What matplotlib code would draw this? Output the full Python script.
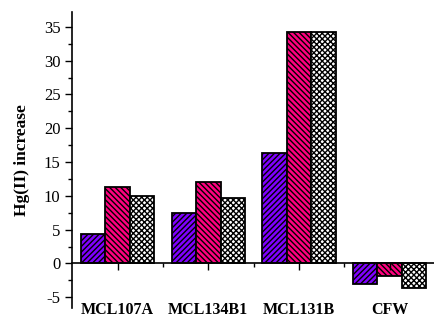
import numpy as np
import matplotlib.pyplot as plt
import matplotlib.transforms as mtransforms

# strains and the three measured series
strains = ['MCL107A', 'MCL134B1', 'MCL131B', 'CFW']
series_a = [4.4, 7.5, 16.4, -3.0]
series_b = [11.3, 12.0, 34.2, -1.8]
series_c = [10.0, 9.7, 34.2, -3.7]

plt.rcParams['font.family'] = ['Liberation Serif', 'DejaVu Serif']
plt.rcParams['hatch.linewidth'] = 1.0
plt.rcParams['axes.unicode_minus'] = False

fig = plt.figure(figsize=(4.35, 3.2), dpi=100)
ax = fig.add_axes([0.166, 0.0375, 0.834, 0.925])

ind = np.arange(len(strains))
width = 0.27
styles = [(series_a, '#7f00ff', '//////'),
          (series_b, '#ff007f', '\\\\\\\\\\\\'),
          (series_c, 'white', 'xxxxxx')]
for i, (vals, col, hatch) in enumerate(styles):
    ax.bar(ind + (i - 1) * width, vals, width, color=col, hatch=hatch,
           edgecolor='black', linewidth=1.3)

ax.set_xlim(-0.5, 3.5)
ax.set_ylim(-6.6, 37.2)
ax.spines['top'].set_visible(False)
ax.spines['right'].set_visible(False)
ax.spines['bottom'].set_position(('data', 0))
ax.spines['left'].set_linewidth(1.2)
ax.spines['bottom'].set_linewidth(1.2)

ax.set_yticks(np.arange(-5, 36, 5))
ax.set_yticks(np.arange(-5, 37, 2.5), minor=True)
ax.set_xticks(ind)
ax.set_xticks(np.arange(0.5, 3.5, 1), minor=True)
ax.set_xticklabels([])
ax.tick_params(axis='both', which='major', direction='out', length=5, width=1, labelsize=12)
ax.tick_params(axis='both', which='minor', direction='out', length=3, width=1)

# strain names sit below the plot, not on the zero line
trans = mtransforms.blended_transform_factory(ax.transData, ax.transAxes)
for x, name in zip(ind, strains):
    ax.text(x, -0.008, name, transform=trans, ha='center', va='center',
            fontsize=11.5, fontweight='bold')

ax.set_ylabel('Hg(II) increase', fontsize=12.5, fontweight='bold', labelpad=10)

plt.savefig('out.png', dpi=100)
